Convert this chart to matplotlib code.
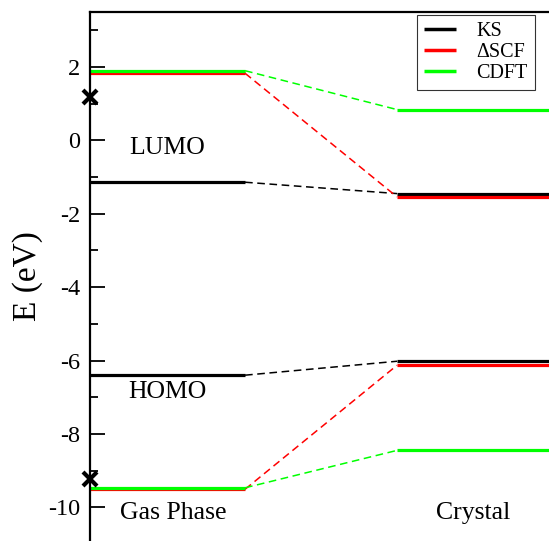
import matplotlib
matplotlib.use("Agg")
import matplotlib.pyplot as plt
from matplotlib.ticker import MultipleLocator

methods = ["KS", "\u0394SCF", "CDFT"]
colors = ["#000000", "#ff0000", "#00ff00"]
gas_lumo = [-1.14, 1.83, 1.90]
gas_homo = [-6.40, -9.51, -9.47]
crystal_lumo = [-1.45, -1.54, 0.84]
crystal_homo = [-6.02, -6.13, -8.45]
exp_levels = [1.17, -9.22]
phases = ["Gas Phase", "Crystal"]

plt.rcParams['font.family'] = ['Liberation Serif', 'DejaVu Serif']
plt.rcParams['axes.unicode_minus'] = False

fig = plt.figure(figsize=(5.49, 5.41), dpi=100)
ax = fig.add_axes([90/549, 0.0, 1 - 90/549, 1 - 12/541])

gx = (0.0, 1.0)
cx = (1.98, 2.96)

for m, c, gl, gh, cl, ch in zip(methods, colors, gas_lumo, gas_homo, crystal_lumo, crystal_homo):
    ax.plot(gx, [gl, gl], color=c, lw=2.3, solid_capstyle='butt', label=m)
    ax.plot(gx, [gh, gh], color=c, lw=2.3, solid_capstyle='butt')
    ax.plot(cx, [cl, cl], color=c, lw=2.3, solid_capstyle='butt')
    ax.plot(cx, [ch, ch], color=c, lw=2.3, solid_capstyle='butt')
    ax.plot([gx[1], cx[0]], [gl, cl], color=c, lw=1.1, dashes=(5, 3))
    ax.plot([gx[1], cx[0]], [gh, ch], color=c, lw=1.1, dashes=(5, 3))

ax.plot([0, 0], exp_levels, linestyle='none', marker='x', color='black',
        markersize=10, markeredgewidth=3, clip_on=False, zorder=5)

ax.text(0.5, -0.2, "LUMO", fontsize=18.5, ha='center', va='center')
ax.text(0.5, -6.85, "HOMO", fontsize=18.5, ha='center', va='center')
ax.text(0.54, -10.17, phases[0], fontsize=18.5, ha='center', va='center')
ax.text(2.47, -10.17, phases[1], fontsize=18.5, ha='center', va='center')

ax.set_xlim(0, 2.96)
ax.set_ylim(-10.92, 3.5)
ax.yaxis.set_major_locator(MultipleLocator(2))
ax.yaxis.set_minor_locator(MultipleLocator(1))
ax.tick_params(axis='y', which='major', direction='in', length=11, width=1.3,
               labelsize=17.5, pad=7)
ax.tick_params(axis='y', which='minor', direction='in', length=6, width=1.3)
ax.set_xticks([])
ax.spines['bottom'].set_visible(False)
ax.spines['right'].set_visible(False)
ax.spines['top'].set_linewidth(1.6)
ax.spines['left'].set_linewidth(1.6)
ax.set_ylabel("E (eV)", fontsize=24, labelpad=4)

leg = ax.legend(loc='upper left', bbox_to_anchor=(417/549, 1 - 15/541),
                bbox_transform=fig.transFigure, fontsize=14.5, frameon=True,
                fancybox=False, edgecolor='black', handlelength=1.6,
                labelspacing=0.1, borderpad=0.35, handletextpad=1.0,
                borderaxespad=0)
leg.get_frame().set_linewidth(0.8)
for line in leg.get_lines():
    line.set_linewidth(2.5)

fig.savefig("out.png", dpi=100)
